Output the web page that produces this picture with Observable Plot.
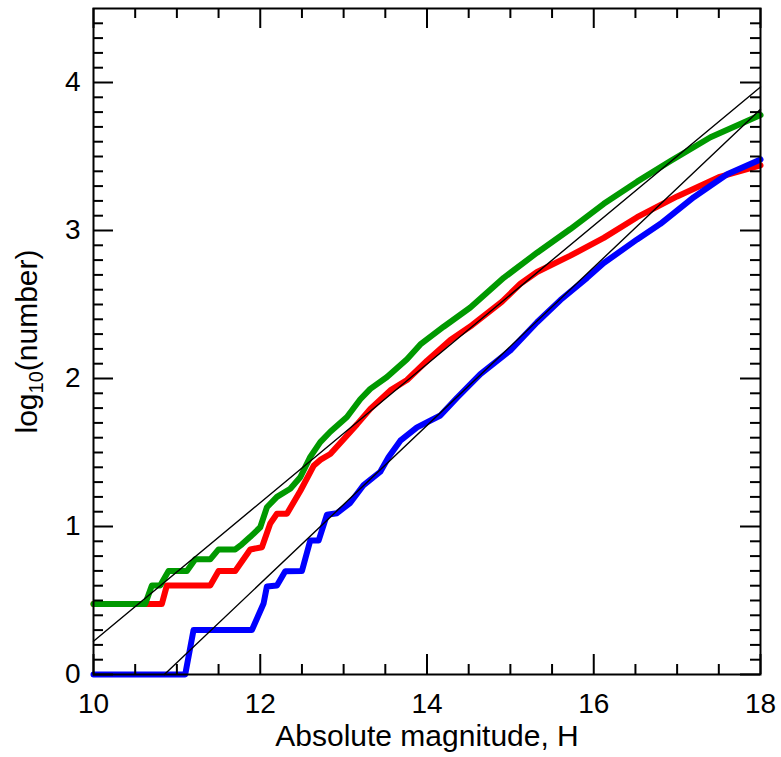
<!DOCTYPE html>
<html>
<head>
<meta charset="utf-8">
<script src="https://cdn.jsdelivr.net/npm/d3@7"></script>
<script src="https://cdn.jsdelivr.net/npm/@observablehq/plot@0.6"></script>
<style>
  html, body { margin: 0; padding: 0; background: #fff; }
  #chart svg { display: block; }
</style>
</head>
<body>
<div id="chart"></div>
<script>
// Cumulative counts, log10(number) vs absolute magnitude H
const green = [
  [10, 0.477], [10.62, 0.477], [10.70, 0.602], [10.80, 0.602], [10.90, 0.699],
  [11.12, 0.699], [11.22, 0.778], [11.40, 0.778], [11.50, 0.845], [11.70, 0.845],
  [11.78, 0.88], [11.88, 0.93], [12.0, 0.995], [12.08, 1.13], [12.2, 1.20],
  [12.36, 1.255], [12.48, 1.333], [12.6, 1.47], [12.72, 1.57], [12.84, 1.64],
  [13.04, 1.74], [13.2, 1.86], [13.32, 1.93], [13.52, 2.01], [13.76, 2.13],
  [13.92, 2.23], [14.2, 2.35], [14.52, 2.48], [14.92, 2.68], [15.32, 2.85],
  [15.72, 3.01], [16.12, 3.18], [16.52, 3.33], [16.92, 3.47], [17.4, 3.63],
  [18, 3.78]
];
const red = [
  [10, 0.477], [10.82, 0.477], [10.88, 0.602], [11.40, 0.602], [11.50, 0.699],
  [11.70, 0.699], [11.88, 0.845], [12.02, 0.86], [12.12, 1.02], [12.2, 1.086],
  [12.32, 1.086], [12.48, 1.24], [12.64, 1.41], [12.72, 1.45], [12.84, 1.49],
  [13.0, 1.59], [13.16, 1.69], [13.32, 1.795], [13.56, 1.92], [13.76, 1.99],
  [14.0, 2.12], [14.28, 2.26], [14.54, 2.36], [14.9, 2.52], [15.12, 2.64],
  [15.32, 2.72], [15.72, 2.83], [16.12, 2.95], [16.52, 3.09], [17.0, 3.23],
  [17.5, 3.36], [18, 3.44]
];
const blue = [
  [10, 0], [11.1, 0], [11.2, 0.301], [11.9, 0.301], [12.04, 0.48],
  [12.08, 0.595], [12.2, 0.602], [12.3, 0.698], [12.5, 0.699], [12.6, 0.905],
  [12.7, 0.905], [12.8, 1.08], [12.92, 1.09], [13.08, 1.16], [13.24, 1.28],
  [13.44, 1.37], [13.54, 1.47], [13.68, 1.58], [13.88, 1.67], [14.16, 1.75],
  [14.36, 1.87], [14.64, 2.03], [15.0, 2.19], [15.32, 2.38], [15.6, 2.53],
  [15.92, 2.68], [16.12, 2.78], [16.52, 2.94], [16.8, 3.045], [17.2, 3.225],
  [17.6, 3.38], [18, 3.48]
];
const fitUpper = [[10, 0.225], [18, 3.97]];
const fitLower = [[10.85, 0], [18, 3.82]];

const xMajor = [10, 12, 14, 16, 18];
const xMinor = [10.5, 11, 11.5, 12.5, 13, 13.5, 14.5, 15, 15.5, 16.5, 17, 17.5];
const yMajor = [0, 1, 2, 3, 4];
const yMinor = d3.range(1, 45).map(i => i / 10).filter(v => !yMajor.includes(v));

const W = 781, H = 757;
const mL = 93, mR = 21, mT = 8, mB = 83;
const pw = W - mL - mR, ph = H - mT - mB;

const chart = Plot.plot({
  width: W, height: H,
  marginLeft: mL, marginRight: mR, marginTop: mT, marginBottom: mB,
  style: { fontFamily: "'Liberation Sans', Arial, Helvetica, sans-serif", color: "black", background: "white" },
  x: { domain: [10, 18] },
  y: { domain: [0, 4.5] },
  marks: [
    Plot.line(red, { x: d => d[0], y: d => d[1], stroke: "#ff0000", strokeWidth: 6, strokeLinejoin: "round" }),
    Plot.line(blue, { x: d => d[0], y: d => d[1], stroke: "#0000ff", strokeWidth: 6, strokeLinejoin: "round" }),
    Plot.line(green, { x: d => d[0], y: d => d[1], stroke: "#009900", strokeWidth: 6, strokeLinejoin: "round" }),
    Plot.line(fitUpper, { x: d => d[0], y: d => d[1], stroke: "black", strokeWidth: 1.4 }),
    Plot.line(fitLower, { x: d => d[0], y: d => d[1], stroke: "black", strokeWidth: 1.4 }),
    // inward ticks, bottom/top
    Plot.tickX(xMajor, { x: d => d, insetTop: ph - 20, stroke: "black", strokeWidth: 2 }),
    Plot.tickX(xMajor, { x: d => d, insetBottom: ph - 20, stroke: "black", strokeWidth: 2 }),
    Plot.tickX(xMinor, { x: d => d, insetTop: ph - 10, stroke: "black", strokeWidth: 2 }),
    Plot.tickX(xMinor, { x: d => d, insetBottom: ph - 10, stroke: "black", strokeWidth: 2 }),
    // inward ticks, left/right
    Plot.tickY(yMajor, { y: d => d, insetRight: pw - 20, stroke: "black", strokeWidth: 2 }),
    Plot.tickY(yMajor, { y: d => d, insetLeft: pw - 20, stroke: "black", strokeWidth: 2 }),
    Plot.tickY(yMinor, { y: d => d, insetRight: pw - 10, stroke: "black", strokeWidth: 2 }),
    Plot.tickY(yMinor, { y: d => d, insetLeft: pw - 10, stroke: "black", strokeWidth: 2 }),
    Plot.frame({ stroke: "black", strokeWidth: 2 }),
    Plot.axisX({ ticks: xMajor, tickSize: 0, tickPadding: 19, fontSize: 28, label: null, tickFormat: d => String(d) }),
    Plot.axisY({ ticks: yMajor, tickSize: 0, tickPadding: 13, fontSize: 28, label: null, tickFormat: d => String(d) }),
    Plot.text(["Absolute magnitude, H"], { frameAnchor: "bottom", dy: 71, fontSize: 30, fill: "black", textAnchor: "middle" }),
    Plot.text(["log10(number)"], { frameAnchor: "left", dx: -66, rotate: -90, fontSize: 30, fill: "black", textAnchor: "middle" })
  ]
});

// subscript for the y label
const yl = [...chart.querySelectorAll("text")].find(e => e.textContent === "log10(number)");
if (yl) {
  yl.textContent = "";
  const ns = "http://www.w3.org/2000/svg";
  const a = document.createElementNS(ns, "tspan"); a.textContent = "log";
  const b = document.createElementNS(ns, "tspan"); b.textContent = "10";
  b.setAttribute("font-size", "20"); b.setAttribute("dy", "6");
  const c = document.createElementNS(ns, "tspan"); c.textContent = "(number)";
  c.setAttribute("dy", "-6");
  yl.append(a, b, c);
}
document.getElementById("chart").append(chart);
</script>
</body>
</html>
